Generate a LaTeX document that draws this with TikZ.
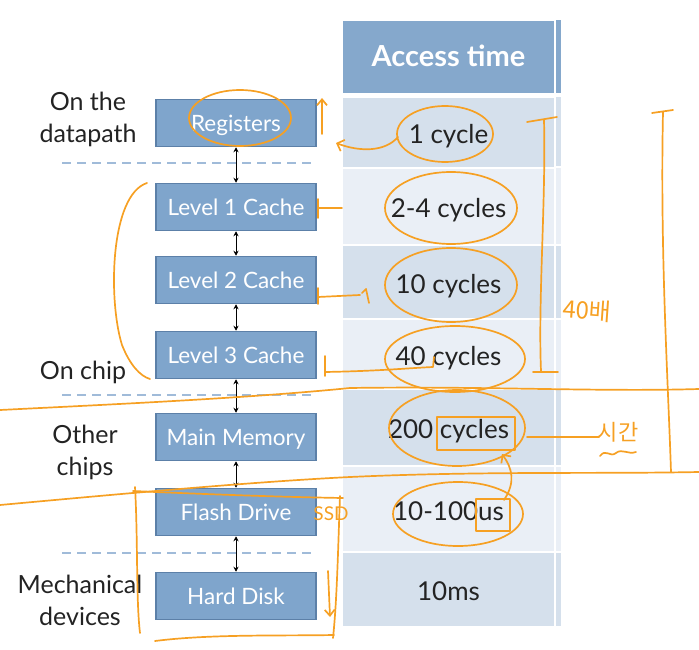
\documentclass[tikz,border=0pt]{standalone}
\usepackage{fontspec}
\setmainfont{Lato}
\newfontfamily\krfont{Noto Sans CJK KR}
\usetikzlibrary{arrows.meta}
\definecolor{hdrblue}{RGB}{133,168,204}
\definecolor{rowdark}{RGB}{213,224,236}
\definecolor{rowlight}{RGB}{234,239,246}
\definecolor{boxblue}{RGB}{127,165,204}
\definecolor{boxedge}{RGB}{92,128,168}
\definecolor{sepblue}{RGB}{160,187,217}
\definecolor{penorange}{RGB}{246,160,35}
\definecolor{inkgray}{RGB}{35,35,35}

\begin{document}
\begin{tikzpicture}[x=1pt, y=-1pt,
      membox/.style={draw=boxedge, fill=boxblue, line width=1.5pt,
                  minimum width=160pt, minimum height=47pt, inner sep=0pt,
                  text=white, text height=16.5pt, text depth=0pt,
                  font=\fontsize{22.5}{22.5}\selectfont},
      cell/.style={draw=white, line width=0.8pt, minimum width=212pt, inner sep=0pt,
                  text=inkgray, text height=23pt, text depth=0pt,
                  font=\fontsize{26}{26}\selectfont},
      side/.style={align=center, text=inkgray, font=\fontsize{25}{32}\selectfont},
      link/.style={draw=black, line width=0.8pt, {Stealth[length=5pt,width=5pt]}-{Stealth[length=5pt,width=5pt]}},
      sep/.style={draw=sepblue, line width=1.8pt, dash pattern=on 9pt off 6pt},
      pen/.style={draw=penorange, line width=1.7pt, line cap=round, line join=round},
      scrawl/.style={text=penorange, inner sep=0pt},
      ]
      \useasboundingbox (0,0) rectangle (699,650);

      % access time column
      \node[cell, fill=hdrblue, minimum height=73pt, text=white, text height=21pt,
            font=\fontsize{29}{29}\selectfont\bfseries] (head) at (448.5,56.5) {Access time};
      \fill[hdrblue] (556,20) rectangle (561,93);
      \foreach \y/\h/\c/\t [count=\i] in {132/70/rowdark/1 cycle, 206/76/rowlight/2-4 cycles,
                  281.5/73/rowdark/10 cycles, 353.5/69/rowlight/40 cycles,
                  427/76/rowdark/200 cycles, 508.5/85/rowlight/10-100us, 589/74/rowdark/10ms}{
            \node[cell, fill=\c, minimum height=\h pt] (t\i) at (448.5,\y) {\t};
            \fill[\c] (556,\y-\h/2+0.5) rectangle (561,\y+\h/2-0.5);
      }

      % memory levels
      \node[membox] (reg) at (236,123) {Registers};
      \node[membox] (lone) at (236,207) {Level 1 Cache};
      \node[membox] (ltwo) at (236,280) {Level 2 Cache};
      \node[membox] (lthree) at (236,355) {Level 3 Cache};
      \node[membox] (mem) at (236,437) {Main Memory};
      \node[membox] (flash) at (236,512) {Flash Drive};
      \node[membox] (disk) at (236,596) {Hard Disk};
      \foreach \a/\b in {reg/lone, lone/ltwo, ltwo/lthree, lthree/mem, mem/flash, flash/disk}
            \draw[link] (\a) -- (\b);

      \draw[sep] (62,163) -- (314,163);
      \draw[sep] (62,395) -- (314,395);
      \draw[sep] (62,553) -- (314,553);

      \node[side] (datapath) at (88,119) {On the\\datapath};
      \node[side] (onchip) at (83,372) {On chip};
      \node[side] (otherchips) at (85,452) {Other\\chips};
      \node[side] (mech) at (80,600) {Mechanical\\devices};

      % handwritten notes
      \draw[pen] (240,118) ellipse[x radius=51pt, y radius=28pt];
      \draw[pen, -{Straight Barb[length=6pt,width=10pt]}] (322,134) -- (322,98);
      \draw[pen] (445,134) ellipse[x radius=48pt, y radius=28pt];
      \draw[pen, -{Straight Barb[length=6pt,width=12pt]}] (398,137) .. controls (385,152) and (360,152) .. (336,143);
      \draw[pen] (451,208) ellipse[x radius=66pt, y radius=36pt];
      \draw[pen] (451,285) ellipse[x radius=66pt, y radius=37pt];
      \draw[pen] (455,359) ellipse[x radius=70pt, y radius=33pt];
      \draw[pen] (457,428) ellipse[x radius=68pt, y radius=38pt];
      \draw[pen] (437,417) rectangle (515,450);
      \draw[pen] (458,514) ellipse[x radius=65pt, y radius=32pt];
      \draw[pen] (476,499) rectangle (510,531);
      \draw[pen, -{Straight Barb[length=6pt,width=12pt]}] (504,500) .. controls (516,482) and (512,468) .. (502,454);

      \draw[pen] (527,122) -- (557,117);
      \draw[pen] (544,120) .. controls (546,200) and (538,300) .. (541,371);
      \draw[pen] (533,372) -- (558,372);
      \node[scrawl, font=\krfont\fontsize{24}{24}\selectfont, rotate=-4] (times) at (587,310) {40배};

      \draw[pen] (652,113) -- (673,110);
      \draw[pen] (663,112) .. controls (660,250) and (668,380) .. (671,472);

      \draw[pen] (527,437) -- (599,437);
      \node[scrawl, font=\krfont\fontsize{22}{22}\selectfont] (jigan) at (618,432) {시간};
      \draw[pen] (600,456) .. controls (606,448) and (610,458) .. (616,453) .. controls (622,448) and (628,455) .. (636,452);

      \draw[pen] (147,183) .. controls (110,195) and (108,300) .. (122,345) .. controls (130,365) and (140,376) .. (150,379);
      \draw[pen] (318,199) -- (318,218);
      \draw[pen] (318,208) -- (342,208);
      \draw[pen] (318,288) -- (318,304);
      \draw[pen] (318,297) -- (360,295);
      \draw[pen] (362,293) -- (366,289) -- (369,303);
      \draw[pen] (325,356) -- (325,376);
      \draw[pen] (325,372) .. controls (380,371) and (410,368) .. (433,367) -- (434,357);

      \draw[pen] (0,410) .. controls (120,404) and (250,398) .. (350,388) .. controls (480,386) and (600,392) .. (699,389);
      \draw[pen] (0,505) .. controls (120,494) and (250,482) .. (350,477) .. controls (480,471) and (600,474) .. (699,472);

      \draw[pen] (133,491) .. controls (200,494) and (280,497) .. (343,498);
      \draw[pen] (135,487) .. controls (138,540) and (136,600) .. (140,633);
      \draw[pen] (340,496) .. controls (338,550) and (337,600) .. (333,638);
      \draw[pen] (155,641) .. controls (210,634) and (280,636) .. (334,635);
      \node[scrawl, font=\fontsize{19}{19}\selectfont] (ssd) at (331,514) {SSD};
      \draw[pen, -{Straight Barb[length=6pt,width=10pt]}] (328,571) -- (330,617);
\end{tikzpicture}
\end{document}
